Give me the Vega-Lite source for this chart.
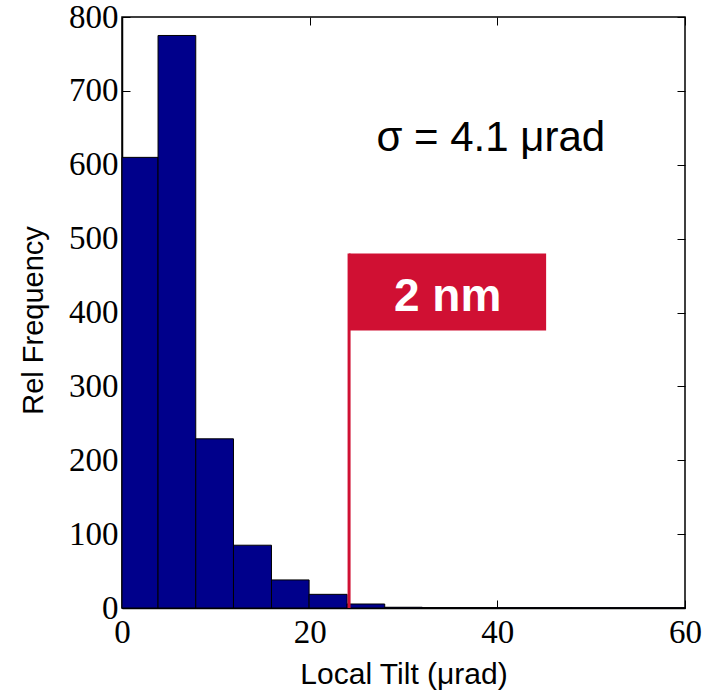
{
  "$schema": "https://vega.github.io/schema/vega-lite/v6.json",
  "width": 563,
  "height": 591,
  "autosize": "none",
  "padding": {"left": 122, "top": 17, "right": 19, "bottom": 87},
  "background": "white",
  "config": {
    "view": {"stroke": "black", "strokeWidth": 1.5},
    "axis": {
      "grid": false,
      "domainColor": "black",
      "domainWidth": 1.5,
      "tickColor": "black",
      "tickSize": -8,
      "tickWidth": 1,
      "labelFont": "Liberation Serif",
      "labelFontSize": 33,
      "labelColor": "black",
      "titleFont": "Liberation Sans",
      "titleFontSize": 30,
      "titleFontWeight": "normal",
      "titleColor": "black"
    }
  },
  "datasets": {
    "bins": [
      {"x0": 0, "x1": 3.84, "count": 610},
      {"x0": 3.84, "x1": 7.86, "count": 775},
      {"x0": 7.86, "x1": 11.88, "count": 229},
      {"x0": 11.88, "x1": 15.93, "count": 85},
      {"x0": 15.93, "x1": 19.94, "count": 38},
      {"x0": 19.94, "x1": 23.99, "count": 18.5},
      {"x0": 23.99, "x1": 28.0, "count": 5.4},
      {"x0": 28.0, "x1": 32.0, "count": 1},
      {"x0": 32.0, "x1": 36.0, "count": 0.5},
      {"x0": 36.0, "x1": 40.0, "count": 0.5},
      {"x0": 40.0, "x1": 44.0, "count": 0.3},
      {"x0": 44.0, "x1": 48.0, "count": 0.3},
      {"x0": 48.0, "x1": 52.0, "count": 0.2},
      {"x0": 52.0, "x1": 56.0, "count": 0.2},
      {"x0": 56.0, "x1": 60.0, "count": 0.2}
    ],
    "marker": [
      {"x": 24.2, "x2": 45.2, "ylo": 375.5, "yhi": 480, "base": 0, "label": "2 nm", "lx": 34.7, "ly": 421.5}
    ],
    "note": [
      {"x": 39.3, "y": 619, "label": "σ = 4.1 μrad"}
    ]
  },
  "resolve": {"axis": {"x": "independent", "y": "independent"}},
  "layer": [
    {
      "data": {"name": "bins"},
      "mark": {"type": "rect", "fill": "#00008B", "stroke": "black", "strokeWidth": 1},
      "encoding": {
        "x": {
          "field": "x0", "type": "quantitative",
          "scale": {"domain": [0, 60], "nice": false, "zero": false},
          "axis": {"values": [0, 20, 40, 60], "title": "Local Tilt (μrad)", "labelPadding": 16, "titlePadding": 10, "labelFlush": false}
        },
        "x2": {"field": "x1"},
        "y": {
          "field": "count", "type": "quantitative",
          "scale": {"domain": [0, 800], "nice": false},
          "axis": {"values": [0, 100, 200, 300, 400, 500, 600, 700, 800], "title": "Rel Frequency", "titleFontSize": 29, "titleY": 303, "labelPadding": 12, "titlePadding": 20}
        },
        "y2": {"datum": 0}
      }
    },
    {
      "data": {"name": "marker"},
      "mark": {"type": "rule", "color": "#D01033", "strokeWidth": 3},
      "encoding": {
        "x": {"field": "x", "type": "quantitative", "axis": {"orient": "top", "values": [0, 20, 40, 60], "labels": false, "title": null, "domain": false}},
        "y": {"field": "base", "type": "quantitative", "axis": {"orient": "right", "values": [0, 100, 200, 300, 400, 500, 600, 700, 800], "labels": false, "title": null, "domain": false}},
        "y2": {"field": "yhi"}
      }
    },
    {
      "data": {"name": "marker"},
      "mark": {"type": "rect", "fill": "#D01033"},
      "encoding": {
        "x": {"field": "x", "type": "quantitative", "axis": null},
        "x2": {"field": "x2"},
        "y": {"field": "ylo", "type": "quantitative", "axis": null},
        "y2": {"field": "yhi"}
      }
    },
    {
      "data": {"name": "marker"},
      "mark": {"type": "text", "color": "white", "font": "Liberation Sans", "fontWeight": "bold", "fontSize": 46, "align": "center", "baseline": "middle"},
      "encoding": {
        "x": {"field": "lx", "type": "quantitative", "axis": null},
        "y": {"field": "ly", "type": "quantitative", "axis": null},
        "text": {"field": "label"}
      }
    },
    {
      "data": {"name": "note"},
      "mark": {"type": "text", "color": "black", "font": "Liberation Sans", "fontSize": 42, "align": "center", "baseline": "alphabetic"},
      "encoding": {
        "x": {"field": "x", "type": "quantitative", "axis": null},
        "y": {"field": "y", "type": "quantitative", "axis": null},
        "text": {"field": "label"}
      }
    }
  ]
}
